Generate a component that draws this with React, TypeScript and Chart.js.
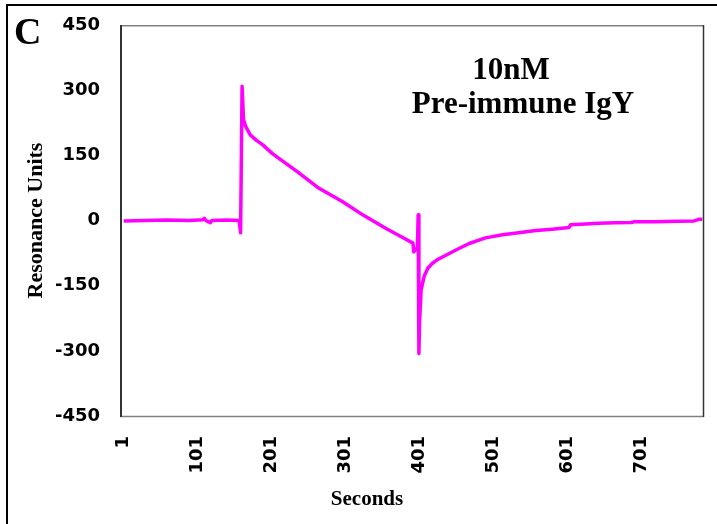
import React, { useEffect, useRef } from "react";
import { Chart, registerables } from "chart.js";

Chart.register(...registerables);

// Time (s) and response (RU)
const seconds = [
  1, 30, 60, 90, 108, 110, 112, 118, 120, 140, 157, 159, 161, 163, 166, 172, 180, 189, 202,
  236, 265, 297, 324, 355, 378, 392, 393, 398, 399, 400, 401, 403, 407, 412, 418, 425, 432,
  450, 468, 490, 513, 535, 558, 580, 603, 605, 625, 643, 665, 688, 690, 720, 750, 772,
  779, 783,
];
const resonanceUnits = [
  -1, 0, 1, 0, 2, 5, 0, -5, 0, 1, 0, -28, 309, 231, 216, 197, 185, 174, 154,
  112, 74, 43, 13, -18, -39, -52, -72, -62, 13, -306, -230, -160, -129, -110, -99, -90, -84,
  -68, -53, -40, -33, -28, -23, -20, -16, -10, -8, -6.5, -5, -4.5, -3, -3, -2, -1,
  3, 3,
];

const xTickValues = [1, 101, 201, 301, 401, 501, 601, 701];
const yTickValues = [-450, -300, -150, 0, 150, 300, 450];

const panelLabel = "C";
const annotationLines = ["10nM", "Pre-immune IgY"];
const xTitle = "Seconds";
const yTitle = "Resonance Units";

export default function App() {
  const ref = useRef<HTMLCanvasElement | null>(null);

  useEffect(() => {
    const canvas = ref.current;
    if (!canvas) return;

    const decorations = {
      id: "decorations",
      beforeDraw(chart: any) {
        const { ctx, width, height } = chart;
        ctx.save();
        ctx.fillStyle = "#ffffff";
        ctx.fillRect(0, 0, width, height);
        ctx.restore();
      },
      afterDraw(chart: any) {
        const { ctx, chartArea: a } = chart;
        ctx.save();
        // outer frame (left + top)
        ctx.strokeStyle = "#000000";
        ctx.lineWidth = 2;
        ctx.beginPath();
        ctx.moveTo(7, chart.height);
        ctx.lineTo(7, 5);
        ctx.lineTo(chart.width, 5);
        ctx.stroke();

        // plot area border
        ctx.lineWidth = 1.5;
        ctx.strokeStyle = "#808080";
        ctx.beginPath();
        ctx.moveTo(a.left, a.top + 0.75);
        ctx.lineTo(a.right + 1, a.top + 0.75);
        ctx.moveTo(a.left, a.bottom + 0.5);
        ctx.lineTo(a.right + 1, a.bottom + 0.5);
        ctx.stroke();
        ctx.strokeStyle = "#333333";
        ctx.lineWidth = 2;
        ctx.beginPath();
        ctx.moveTo(a.left + 1, a.top);
        ctx.lineTo(a.left + 1, a.bottom + 1);
        ctx.stroke();
        ctx.lineWidth = 1.5;
        ctx.beginPath();
        ctx.moveTo(a.right + 0.5, a.top);
        ctx.lineTo(a.right + 0.5, a.bottom + 1);
        ctx.stroke();

        // texts
        ctx.fillStyle = "#000000";
        ctx.textBaseline = "alphabetic";
        ctx.textAlign = "left";
        ctx.font = 'bold 38px "Liberation Serif"';
        ctx.fillText(panelLabel, 14, 44);

        ctx.textAlign = "center";
        ctx.font = 'bold 31px "Liberation Serif"';
        ctx.fillText(annotationLines[0], 511, 79);
        ctx.fillText(annotationLines[1], 523, 113);

        ctx.font = 'bold 21px "Liberation Serif"';
        ctx.fillText(xTitle, 367, 505);
        ctx.restore();
      },
    };

    const tickFont = { family: "DejaVu Sans", size: 18, weight: "bold" as const };

    const chart = new Chart(canvas, {
      type: "line",
      data: {
        datasets: [
          {
            data: seconds.map((s, i) => ({ x: s, y: resonanceUnits[i] })),
            borderColor: "#FF00FF",
            backgroundColor: "#FF00FF",
            borderWidth: 3.5,
            pointRadius: 0,
            tension: 0,
            borderJoinStyle: "round",
            fill: false,
          },
        ],
      },
      options: {
        animation: false,
        responsive: true,
        maintainAspectRatio: false,
        layout: { padding: { top: 25, right: 14, bottom: 0, left: 0 } },
        plugins: {
          legend: { display: false },
          tooltip: { enabled: false },
        },
        scales: {
          x: {
            type: "linear",
            min: -4,
            max: 784,
            grid: { display: false, drawTicks: false },
            border: { display: false },
            afterBuildTicks: (s: any) => {
              s.ticks = xTickValues.map((v) => ({ value: v }));
            },
            afterFit: (s: any) => {
              s.height = 108;
              s.paddingLeft = 0;
              s.paddingRight = 0;
            },
            ticks: {
              autoSkip: false,
              minRotation: 90,
              maxRotation: 90,
              padding: 20,
              color: "#000000",
              font: tickFont,
              callback: (v: any) => String(v),
            },
          },
          y: {
            type: "linear",
            min: -450,
            max: 450,
            grid: { display: false, drawTicks: false },
            border: { display: false },
            afterBuildTicks: (s: any) => {
              s.ticks = yTickValues.map((v) => ({ value: v }));
            },
            afterFit: (s: any) => {
              s.width = 120;
              s.paddingTop = 0;
              s.paddingBottom = 0;
            },
            ticks: {
              padding: 20,
              color: "#000000",
              font: tickFont,
              callback: (v: any) => String(v),
            },
            title: {
              display: true,
              text: yTitle,
              color: "#000000",
              font: { family: "Liberation Serif", size: 22, weight: "bold" },
              padding: { top: 23, bottom: 0 },
            },
          },
        },
      },
      plugins: [decorations],
    });

    return () => chart.destroy();
  }, []);

  return (
    <div
      style={{
        position: "fixed",
        left: 0,
        top: 0,
        width: 717,
        height: 524,
        background: "#ffffff",
      }}
    >
      <canvas ref={ref} />
    </div>
  );
}
